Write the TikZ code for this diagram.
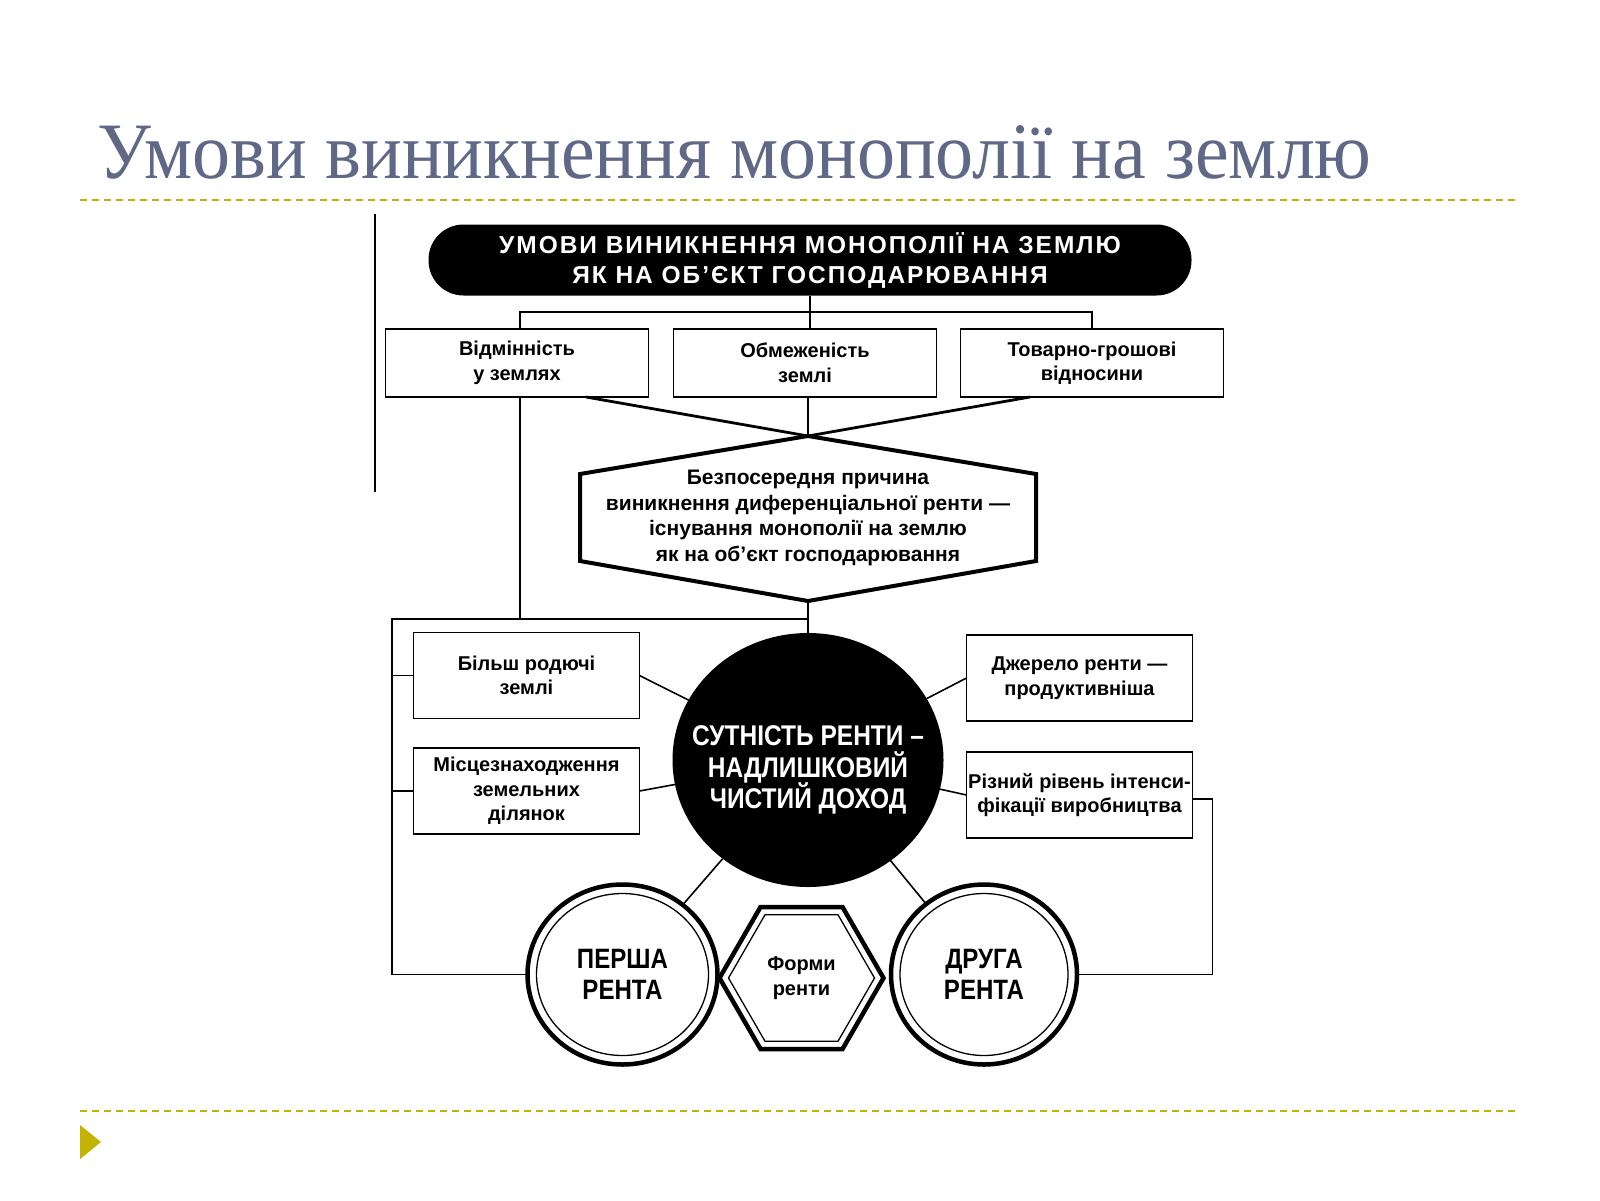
\documentclass[tikz,border=0pt]{standalone}
\usepackage{fontspec}
\setmainfont{Liberation Sans}
\newfontfamily\titlefont[FakeStretch=0.95]{Liberation Serif}
\newfontfamily\condfont[FakeStretch=0.86]{Liberation Sans}
\newfontfamily\widefont[LetterSpace=8]{Liberation Sans}
\usetikzlibrary{shapes.geometric,calc}
\definecolor{titlegray}{RGB}{95,104,134}
\definecolor{oliveline}{RGB}{196,178,0}
\begin{document}
\begin{tikzpicture}[x=1pt,y=-1pt,
  every node/.style={inner sep=0pt,outer sep=0pt},
  rbox/.style={draw,line width=1.8pt,minimum width=263pt,minimum height=68pt,
    font=\bfseries\fontsize{20}{24.5}\selectfont,align=center},
  sbox/.style={draw,line width=1.8pt,minimum width=226pt,minimum height=86pt,
    font=\bfseries\fontsize{20}{24.5}\selectfont,align=center},
  conn/.style={line width=1.6pt},
  thickconn/.style={line width=2.8pt},
  rent/.style={ellipse,draw,line width=4.5pt,font=\bfseries\condfont\fontsize{28}{31}\selectfont,align=center},
  sepline/.style={oliveline,line width=1.6pt,dash pattern=on 7pt off 5pt}]
\useasboundingbox (0,0) rectangle (1600,1200);
\fill[white] (0,0) rectangle (1600,1200);

% title
\node[anchor=base west,text=titlegray,font=\titlefont\fontsize{80}{90}\selectfont] (title) at (97,178) {Умови виникнення монополії на землю};
\draw[sepline] (80,200) coordinate (sl1) -- (1517,200) coordinate (sr1);
\draw[sepline] (80,1111) coordinate (sl2) -- (1517,1111) coordinate (sr2);
\fill[oliveline] (80,1125) -- (101,1142) -- (80,1159) -- cycle;

% scan border artifact
\draw[line width=1.2pt] (375,214) -- (375,492);

% top black box
\node[fill=black,rounded corners=35pt,minimum width=763pt,minimum height=71pt,
  text=white,font=\bfseries\widefont\fontsize{24.5}{30}\selectfont,align=center] (top) at (810,260)
  {УМОВИ ВИНИКНЕННЯ МОНОПОЛІЇ НА ЗЕМЛЮ\\ЯК НА ОБ’ЄКТ ГОСПОДАРЮВАННЯ};

% three boxes
\node[rbox] (b1) at (517,363) {Відмінність\\у землях};
\node[rbox] (b2) at (805,363) {Обмеженість\\землі};
\node[rbox] (b3) at (1092,363) {Товарно-грошові\\відносини};

\draw[conn] (top.south) -- (top.south |- b2.north);
\draw[conn] ([xshift=3pt]b1.north) -- ++(0,-17) -| (b3.north);

% hexagon
\coordinate (hapex) at (808,436);
\coordinate (hbot) at (808,601);
\coordinate (hul) at (580,474);
\coordinate (hll) at (580,561);
\coordinate (hur) at (1036,474);
\coordinate (hlr) at (1036,561);
\draw[line width=4pt,line join=miter] (hapex) -- (hur) -- (hlr) -- (hbot) -- (hll) -- (hul) -- cycle;
\node[font=\bfseries\fontsize{21}{25.5}\selectfont,align=center] (hex) at (808,518)
  {Безпосередня причина\\виникнення диференціальної ренти —\\існування монополії на землю\\як на об’єкт господарювання};

\draw[thickconn] ([xshift=69pt]b1.south) -- (hapex);
\draw[thickconn] ([xshift=-62pt]b3.south) -- (hapex);
\draw[conn] (hapex |- b2.south) -- (hapex);

% central circle
\node[ellipse,fill=black,minimum width=271pt,minimum height=254pt] (circ) at (808,760) {};
\node[text=white,font=\bfseries\condfont\fontsize{28.5}{31.5}\selectfont,align=center] (circtxt) at ([yshift=-10pt]circ.center)
  {СУТНІСТЬ РЕНТИ –\\НАДЛИШКОВИЙ\\ЧИСТИЙ ДОХОД};
\draw[conn] (hbot) -- (circ.north);

% side boxes
\node[sbox] (l1) at (526.5,675.5) {Більш родючі\\землі};
\node[sbox] (l2) at (526.5,791) {Місцезнаходження\\земельних\\ділянок};
\node[sbox] (r1) at (1079.5,678) {Джерело ренти —\\продуктивніша};
\node[sbox] (r2) at (1079.5,795) {Різний рівень інтенси-\\фікації виробництва};

% bottom forms
\node[rent,minimum width=190pt,minimum height=180pt] (p1) at (622.5,974.5) {ПЕРША\\РЕНТА};
\draw[line width=1.3pt] (p1.center) ellipse [x radius=86pt,y radius=81pt];
\node[rent,minimum width=186pt,minimum height=180pt] (p2) at (984,974.5) {ДРУГА\\РЕНТА};
\draw[line width=1.3pt] (p2.center) ellipse [x radius=84pt,y radius=81pt];
\node[regular polygon,regular polygon sides=6,draw,line width=4.5pt,minimum size=164pt,
  font=\bfseries\fontsize{20}{25}\selectfont,align=center] (forms) at (801.5,978) {Форми\\ренти};
\node[regular polygon,regular polygon sides=6,draw,line width=1.3pt,minimum size=146pt] (formsin) at (801.5,978) {};

% connectors
\draw[conn] ([xshift=3pt]b1.south) -- ([xshift=3pt]b1.south |- 0,619);
\draw[conn] (hbot |- 0,619) -| (392,974.5) -- (p1.west);
\draw[conn] (l1.west) -- (l1.west -| 392,0);
\draw[conn] (l2.west) -- (l2.west -| 392,0);
\draw[conn] ([yshift=-4pt]r2.east) -- ++(20,0) |- (p2.east);
\draw[conn] (l1.east) -- (circ);
\draw[conn] (l2.east) -- (circ);
\draw[conn] (r1.west) -- (circ);
\draw[conn] (r2.west) -- (circ);
\draw[conn] (circ) -- (p1);
\draw[conn] (circ) -- (p2);
\end{tikzpicture}
\end{document}
